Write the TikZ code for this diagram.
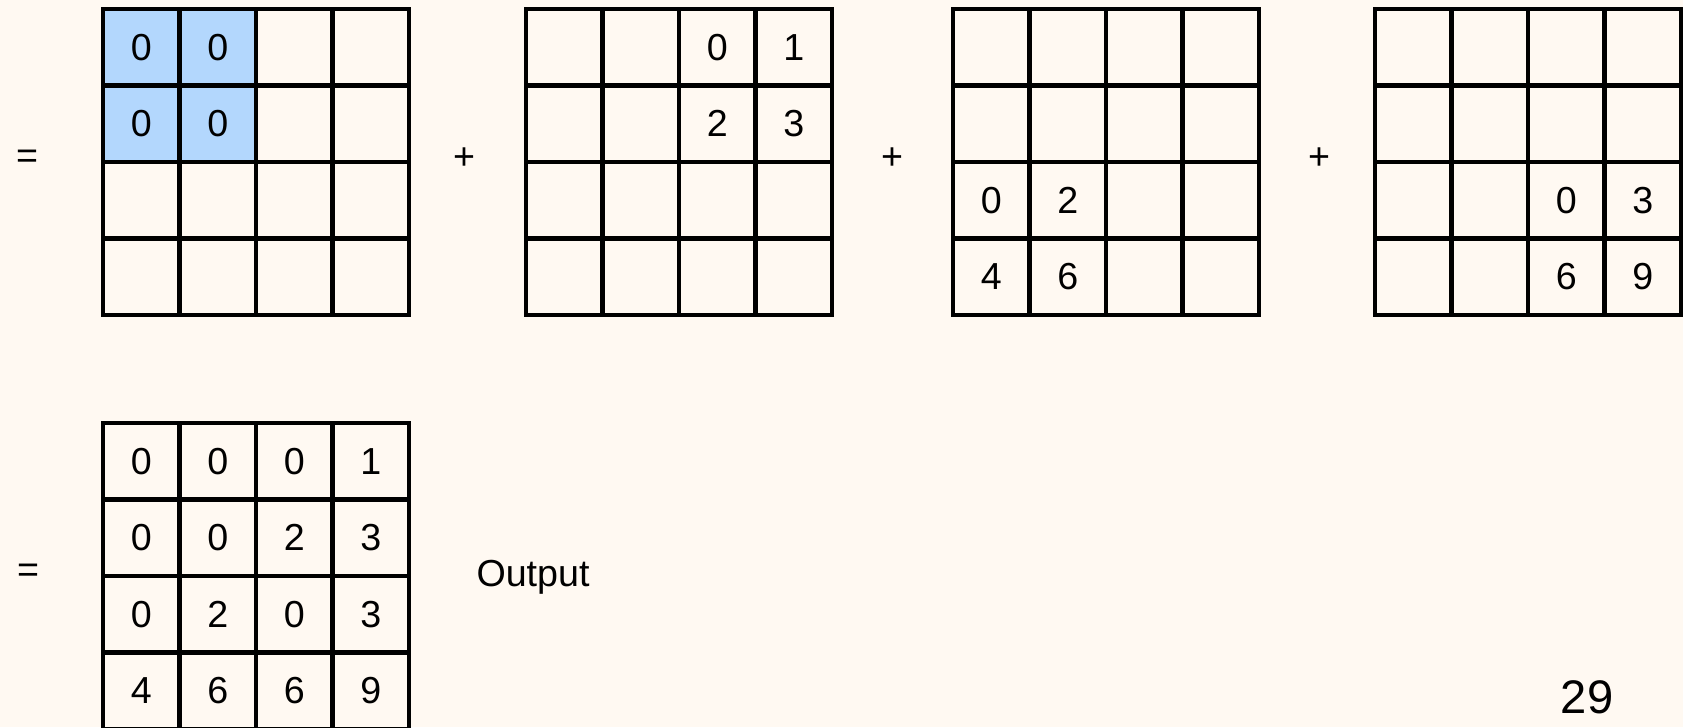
\documentclass[tikz,border=0pt]{standalone}
\usepackage{fontspec}
\setmainfont{Liberation Sans}
\usetikzlibrary{positioning}
\definecolor{paper}{HTML}{FFF9F2}
\definecolor{pick}{HTML}{B3D7FD}

\begin{document}
\begin{tikzpicture}[
    x=0.01cm, y=-0.01cm,
    every node/.style={font=\fontsize{10.7}{12}\selectfont},
    cell/.style={rectangle, draw, line width=1.25pt, minimum size=0.765cm, inner sep=0pt},
    num/.style={inner sep=0pt},
    sign/.style={inner sep=0pt},
    pagenum/.style={inner sep=0pt, font=\fontsize{13.4}{15}\selectfont}
]
    \fill[paper] (0,0) rectangle (1683,727);
    \useasboundingbox (0,0) rectangle (1683,727);
    % highlighted window
    \fill[pick] (103,9) rectangle (256,162);
    % the five 4x4 grids
    \foreach \g/\gx/\gy in {ga/103/9, gb/526/9, gc/953/9, gd/1375/9, out/103/423}
      \foreach \r in {1,...,4}
        \foreach \c in {1,...,4}
          \node[cell] (\g-\r-\c) at ({\gx+(\c-0.5)*76.5},{\gy+(\r-0.5)*76.5}) {};
    % partial results
    \foreach \cel/\v in {ga-1-1/0, ga-1-2/0, ga-2-1/0, ga-2-2/0,
                         gb-1-3/0, gb-1-4/1, gb-2-3/2, gb-2-4/3,
                         gc-3-1/0, gc-3-2/2, gc-4-1/4, gc-4-2/6,
                         gd-3-3/0, gd-3-4/3, gd-4-3/6, gd-4-4/9}
      \node[num] (\cel-v) at (\cel) {\v};
    % summed output
    \foreach \cel/\v in {out-1-1/0, out-1-2/0, out-1-3/0, out-1-4/1,
                         out-2-1/0, out-2-2/0, out-2-3/2, out-2-4/3,
                         out-3-1/0, out-3-2/2, out-3-3/0, out-3-4/3,
                         out-4-1/4, out-4-2/6, out-4-3/6, out-4-4/9}
      \node[num] (\cel-v) at (\cel) {\v};
    \node[sign] (eqtop) at (27,159) {=};
    \node[sign] (plusa) at (464,159) {+};
    \node[sign] (plusb) at (892,159) {+};
    \node[sign] (plusc) at (1319,159) {+};
    \node[sign] (eqout) at (28,573) {=};
    \node[anchor=base, inner sep=0pt] (outlabel) at (533,586) {Output};
    \node[pagenum] (page) at (1587,697) {29};
\end{tikzpicture}
\end{document}
